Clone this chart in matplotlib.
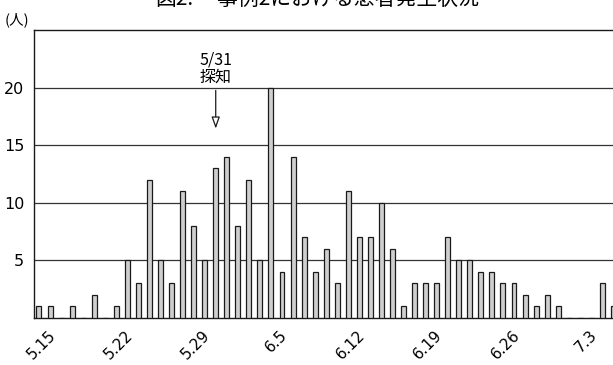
import matplotlib
matplotlib.use("Agg")
import matplotlib.pyplot as plt
import matplotlib.transforms as mtransforms

plt.rcParams['font.family'] = ['Noto Sans CJK JP', 'DejaVu Sans']

days = ['5.15', '5.16', '5.17', '5.18', '5.19', '5.20', '5.21', '5.22', '5.23', '5.24',
        '5.25', '5.26', '5.27', '5.28', '5.29', '5.30', '5.31', '6.1', '6.2', '6.3',
        '6.4', '6.5', '6.6', '6.7', '6.8', '6.9', '6.10', '6.11', '6.12', '6.13',
        '6.14', '6.15', '6.16', '6.17', '6.18', '6.19', '6.20', '6.21', '6.22', '6.23',
        '6.24', '6.25', '6.26', '6.27', '6.28', '6.29', '6.30', '7.1', '7.2', '7.3',
        '7.4', '7.5', '7.6']
counts = [1, 1, 0, 1, 0, 2, 0, 1, 5, 3,
          12, 5, 3, 11, 8, 5, 13, 14, 8, 12,
          5, 20, 4, 14, 7, 4, 6, 3, 11, 7,
          7, 10, 6, 1, 3, 3, 3, 7, 5, 5,
          4, 4, 3, 3, 2, 1, 2, 1, 0, 0,
          0, 3, 1]
tick_labels = ['5.15', '5.22', '5.29', '6.5', '6.12', '6.19', '6.26', '7.3']
y_ticks = [5, 10, 15, 20]
event_day = '5.31'
event_text = '5/31\n探知'

W, H = 613, 365
fig = plt.figure(figsize=(W / 100, H / 100), dpi=100)
ax_left, ax_right, ax_top, ax_bottom = 34, 630, 30, 318
ax = fig.add_axes([ax_left / W, (H - ax_bottom) / H,
                   (ax_right - ax_left) / W, (ax_bottom - ax_top) / H])

x = list(range(len(days)))
ax.bar(x, counts, width=0.45, color='#cfcfcf', edgecolor='#1a1a1a', linewidth=0.9,
       zorder=3)

ax.set_xlim(-0.45, 53.5)
ax.set_ylim(0, 25)
ax.set_yticks(y_ticks)
ax.set_yticklabels([str(v) for v in y_ticks], family='DejaVu Sans', fontsize=11.5)
ax.yaxis.grid(True, color='#333333', linewidth=0.9, zorder=1)
ax.tick_params(axis='y', length=0, pad=7)
ax.tick_params(axis='x', length=0, pad=6)

tick_pos = [days.index(t) for t in tick_labels]
ax.set_xticks(tick_pos)
ax.set_xticklabels(tick_labels, family='DejaVu Sans', fontsize=11, rotation=45,
                   ha='right', va='top', rotation_mode='anchor')
offset = mtransforms.ScaledTranslation(9 / 100, -1 / 100, fig.dpi_scale_trans)
for lab in ax.get_xticklabels():
    lab.set_transform(lab.get_transform() + offset)

for s in ax.spines.values():
    s.set_color('#1a1a1a')
    s.set_linewidth(1.0)

ex = days.index(event_day)
ax.annotate('', xy=(ex, 16.2), xytext=(ex, 20.0),
            arrowprops=dict(arrowstyle='-|>,head_length=0.7,head_width=0.25',
                            fc='white', ec='#1a1a1a', lw=0.9), zorder=5)
ax.text(ex, 20.2, event_text, ha='center', va='bottom', fontsize=11.5,
        linespacing=0.95, zorder=5)

fig.text(5 / W, 1 - 20 / H, '(人)', fontsize=10.5, ha='left', va='center')
fig.text(155 / W, 1 - 5 / H, '図2.', fontsize=15, ha='left', va='baseline')
fig.text(217 / W, 1 - 5 / H, '事例2における患者発生状況', fontsize=15, ha='left',
         va='baseline')

fig.savefig('out.png', dpi=100)
